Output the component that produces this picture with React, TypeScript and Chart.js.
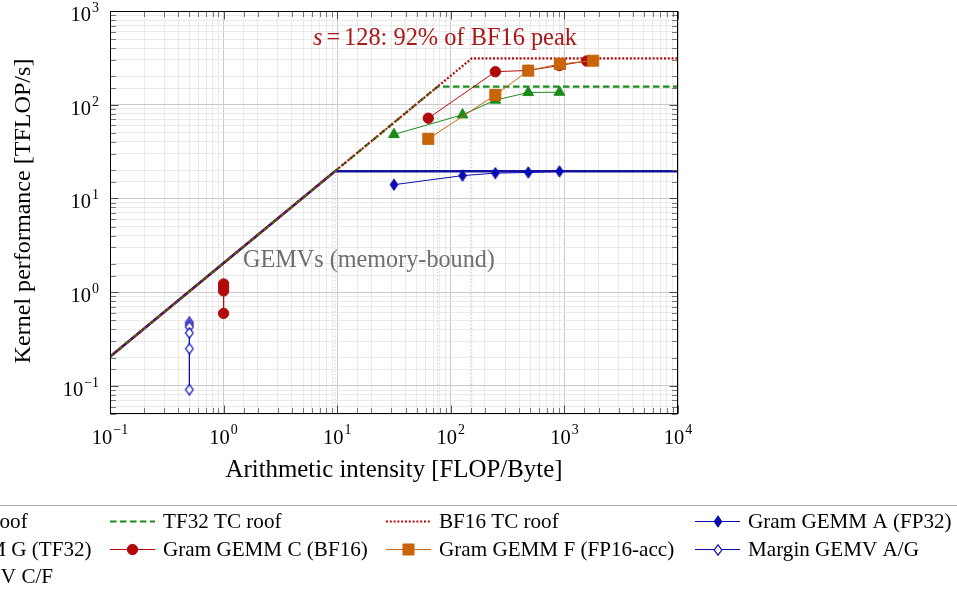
import React, { useEffect, useRef } from "react";
import { Chart, registerables } from "chart.js";
Chart.register(...registerables);

// ---------------- data ----------------
const X_MIN = 0.1;
const X_MAX = 10000;
const Y_MIN = 0.05;
const Y_MAX = 1000;

const ROOF_FP32_X = [0.1, 9.56, 10000];
const ROOF_FP32_Y = [0.204, 19.5, 19.5];
const ROOF_TF32_X = [0.1, 76.5, 10000];
const ROOF_TF32_Y = [0.204, 156, 156];
const ROOF_BF16_X = [0.1, 153, 10000];
const ROOF_BF16_Y = [0.204, 312, 312];
const RIDGE_X = [9.56, 76.5, 153];
const RIDGE_TOP = [19.5, 156, 312];

const GRAM_A_X = [31.6, 126.8, 246.6, 480.7, 905];
const GRAM_A_Y = [14.0, 17.5, 18.6, 18.9, 19.4];
const GRAM_G_X = [31.6, 126.8, 246.6, 480.7, 905];
const GRAM_G_Y = [48.1, 78, 112, 135, 136];
const GRAM_C_X = [63.4, 246.6, 480.7, 905, 1571];
const GRAM_C_Y = [71.8, 225, 232, 262, 293];
const GRAM_F_X = [63.4, 246.6, 480.7, 914, 1793];
const GRAM_F_Y = [43.2, 127, 231, 272, 295];
const GEMV_AG_X = [0.5, 0.5, 0.5, 0.5, 0.5, 0.5];
const GEMV_AG_Y = [0.475, 0.449, 0.425, 0.366, 0.249, 0.091];
const GEMV_CF_X = [1, 1, 1, 1];
const GEMV_CF_Y = [1.22, 1.12, 1.03, 0.593];

const X_TICKS = [0.1, 1, 10, 100, 1000, 10000];
const X_TICK_EXP = ["\u22121", "0", "1", "2", "3", "4"];
const Y_TICKS = [0.1, 1, 10, 100, 1000];
const Y_TICK_EXP = ["\u22121", "0", "1", "2", "3"];

const X_TITLE = "Arithmetic intensity [FLOP/Byte]";
const Y_TITLE = "Kernel performance [TFLOP/s]";
const NOTE_S = "s";
const NOTE_REST = "128: 92% of BF16 peak";
const NOTE_GEMV = "GEMVs (memory-bound)";

const LABELS = [
  "FP32 SIMT roof",
  "TF32 TC roof",
  "BF16 TC roof",
  "Gram GEMM A (FP32)",
  "Gram GEMM G (TF32)",
  "Gram GEMM C (BF16)",
  "Gram GEMM F (FP16-acc)",
  "Margin GEMV A/G",
  "Margin GEMV C/F",
];

// ---------------- styles ----------------
const FAM = '"Liberation Serif", "DejaVu Serif", serif';
const C_ROOF_BLUE = "#12129c";
const C_BLUE = "#0b0bb4";
const C_GREEN = "#1b8c1b";
const C_RED = "#b20a0a";
const C_ORANGE = "#c8640a";

function makeDiamond(color: string, filled: boolean): HTMLCanvasElement {
  const c = document.createElement("canvas");
  const w = filled ? 10 : 10;
  const h = filled ? 13 : 12;
  c.width = w;
  c.height = h;
  const g = c.getContext("2d")!;
  g.beginPath();
  g.moveTo(w / 2, 0.8);
  g.lineTo(w - 1.2, h / 2);
  g.lineTo(w / 2, h - 0.8);
  g.lineTo(1.2, h / 2);
  g.closePath();
  g.fillStyle = filled ? color : "#ffffff";
  g.fill();
  g.strokeStyle = color;
  g.lineWidth = filled ? 1 : 1.2;
  g.stroke();
  return c;
}

type SeriesStyle = {
  color: string;
  width: number;
  dash?: number[];
  marker?: "none" | "circle" | "rect" | "triangle" | "diamond" | "odiamond";
  radius?: number;
};

function isMajor(v: number | undefined) {
  if (v === undefined || v <= 0) return false;
  const l = Math.log10(v);
  return Math.abs(l - Math.round(l)) < 1e-6;
}

function fitSize(ctx: CanvasRenderingContext2D, text: string, font: string, target: number) {
  ctx.font = `${font} 100px ${FAM}`;
  const w = ctx.measureText(text).width;
  return (100 * target) / w;
}

export default function App() {
  const ref = useRef<HTMLCanvasElement>(null);

  useEffect(() => {
    const canvas = ref.current!;
    const dFill = makeDiamond(C_BLUE, true);
    const dOpen = makeDiamond(C_BLUE, false);

    const styles: SeriesStyle[] = [
      { color: C_ROOF_BLUE, width: 2.6, marker: "none" },
      { color: C_GREEN, width: 2.2, dash: [6.5, 3.5], marker: "none" },
      { color: C_RED, width: 2.2, dash: [2, 1.8], marker: "none" },
      { color: C_BLUE, width: 1, marker: "diamond", radius: 5 },
      { color: C_GREEN, width: 1, marker: "triangle", radius: 6.2 },
      { color: C_RED, width: 1, marker: "circle", radius: 5.2 },
      { color: C_ORANGE, width: 1, marker: "rect", radius: 7.8 },
      { color: C_BLUE, width: 1, marker: "odiamond", radius: 5 },
      { color: C_RED, width: 1, marker: "circle", radius: 5.2 },
    ];
    const seriesX = [ROOF_FP32_X, ROOF_TF32_X, ROOF_BF16_X, GRAM_A_X, GRAM_G_X, GRAM_C_X, GRAM_F_X, GEMV_AG_X, GEMV_CF_X];
    const seriesY = [ROOF_FP32_Y, ROOF_TF32_Y, ROOF_BF16_Y, GRAM_A_Y, GRAM_G_Y, GRAM_C_Y, GRAM_F_Y, GEMV_AG_Y, GEMV_CF_Y];

    const pointStyleOf = (s: SeriesStyle): any => {
      switch (s.marker) {
        case "diamond":
          return dFill;
        case "odiamond":
          return dOpen;
        case "rect":
          return "rect";
        case "triangle":
          return "triangle";
        default:
          return "circle";
      }
    };

    const datasets: any[] = [];
    RIDGE_X.forEach((x, i) => {
      datasets.push({
        data: [
          { x, y: RIDGE_TOP[i] },
          { x, y: Y_MIN },
        ],
        showLine: true,
        borderColor: "#b0b0b0",
        borderWidth: 0.9,
        borderDash: [1, 2.5],
        pointRadius: 0,
        pointHoverRadius: 0,
        order: 100,
      });
    });
    styles.forEach((s, i) => {
      datasets.push({
        data: seriesX[i].map((x, k) => ({ x, y: seriesY[i][k] })),
        showLine: true,
        borderColor: s.color,
        backgroundColor: s.color,
        borderWidth: s.width,
        borderDash: s.dash ?? [],
        borderCapStyle: "butt",
        pointStyle: pointStyleOf(s),
        pointRadius: s.marker === "none" ? 0 : s.radius,
        pointHoverRadius: s.marker === "none" ? 0 : s.radius,
        pointBackgroundColor: s.color,
        pointBorderColor: s.color,
        pointBorderWidth: 1,
        tension: 0,
        order: 50 - i,
      });
    });

    const drawMarker = (ctx: CanvasRenderingContext2D, s: SeriesStyle, x: number, y: number) => {
      const r = s.radius ?? 0;
      ctx.save();
      ctx.setLineDash([]);
      ctx.fillStyle = s.color;
      ctx.strokeStyle = s.color;
      ctx.lineWidth = 1;
      if (s.marker === "circle") {
        ctx.beginPath();
        ctx.arc(x, y, r, 0, Math.PI * 2);
        ctx.fill();
        ctx.stroke();
      } else if (s.marker === "rect") {
        const h = r * Math.SQRT1_2;
        ctx.beginPath();
        ctx.rect(x - h, y - h, 2 * h, 2 * h);
        ctx.fill();
        ctx.stroke();
      } else if (s.marker === "triangle") {
        ctx.beginPath();
        ctx.moveTo(x, y - r);
        ctx.lineTo(x + 0.866 * r, y + 0.5 * r);
        ctx.lineTo(x - 0.866 * r, y + 0.5 * r);
        ctx.closePath();
        ctx.fill();
        ctx.stroke();
      } else if (s.marker === "diamond" || s.marker === "odiamond") {
        const im = s.marker === "diamond" ? dFill : dOpen;
        ctx.drawImage(im, Math.round(x - im.width / 2), Math.round(y - im.height / 2));
      }
      ctx.restore();
    };

    const drawPow = (
      ctx: CanvasRenderingContext2D,
      exp: string,
      x: number,
      baseline: number,
      align: "center" | "right",
      size: number
    ) => {
      const sup = size * 0.68;
      ctx.font = `${size}px ${FAM}`;
      const wb = ctx.measureText("10").width;
      ctx.font = `${sup}px ${FAM}`;
      const we = ctx.measureText(exp).width;
      const total = wb + 1 + we;
      const left = align === "center" ? x - total / 2 : x - total;
      ctx.textAlign = "left";
      ctx.textBaseline = "alphabetic";
      ctx.font = `${size}px ${FAM}`;
      ctx.fillText("10", left, baseline);
      ctx.font = `${sup}px ${FAM}`;
      ctx.fillText(exp, left + wb + 1, baseline - size * 0.44);
    };

    const overlay = {
      id: "overlay",
      afterDraw(chart: any) {
        const ctx: CanvasRenderingContext2D = chart.ctx;
        const a = chart.chartArea;
        const xs = chart.scales.x;
        const ys = chart.scales.y;
        ctx.save();

        // inward tick marks on all four sides
        const L = Math.round(a.left) + 0.5;
        const R = Math.round(a.right) - 0.5;
        const T = Math.round(a.top) + 0.5;
        const B = Math.round(a.bottom) - 0.5;
        ctx.lineWidth = 0.8;
        xs.ticks.forEach((t: any) => {
          const px = Math.round(xs.getPixelForValue(t.value)) + 0.5;
          const len = isMajor(t.value) ? 8 : 5.5;
          ctx.strokeStyle = isMajor(t.value) ? "#222" : "#555";
          ctx.beginPath();
          ctx.moveTo(px, B);
          ctx.lineTo(px, B - len);
          ctx.moveTo(px, T);
          ctx.lineTo(px, T + len);
          ctx.stroke();
        });
        ys.ticks.forEach((t: any) => {
          const py = Math.round(ys.getPixelForValue(t.value)) + 0.5;
          const len = isMajor(t.value) ? 8 : 5.5;
          ctx.strokeStyle = isMajor(t.value) ? "#222" : "#555";
          ctx.beginPath();
          ctx.moveTo(L, py);
          ctx.lineTo(L + len, py);
          ctx.moveTo(R, py);
          ctx.lineTo(R - len, py);
          ctx.stroke();
        });
        // frame
        ctx.strokeStyle = "#000";
        ctx.lineWidth = 1;
        ctx.strokeRect(L, T, R - L, B - T);

        // tick labels
        ctx.fillStyle = "#000";
        const tickSize = fitSize(ctx, "10", "", 20.5);
        X_TICKS.forEach((v, i) => {
          drawPow(ctx, X_TICK_EXP[i], xs.getPixelForValue(v), 443.5, "center", tickSize);
        });
        Y_TICKS.forEach((v, i) => {
          drawPow(ctx, Y_TICK_EXP[i], a.left - 11, ys.getPixelForValue(v) + 10, "right", tickSize);
        });

        // axis titles
        const xtSize = fitSize(ctx, X_TITLE, "", 337);
        ctx.font = `${xtSize}px ${FAM}`;
        ctx.textAlign = "center";
        ctx.textBaseline = "alphabetic";
        ctx.fillText(X_TITLE, (a.left + a.right) / 2, 477);
        const ytSize = fitSize(ctx, Y_TITLE, "", 305);
        ctx.save();
        ctx.translate(30, 211);
        ctx.rotate(-Math.PI / 2);
        ctx.font = `${ytSize}px ${FAM}`;
        ctx.fillText(Y_TITLE, 0, 0);
        ctx.restore();

        // annotation: s = 128
        ctx.textAlign = "left";
        ctx.font = `italic 100px ${FAM}`;
        const wS = ctx.measureText(NOTE_S).width;
        ctx.font = `100px ${FAM}`;
        const wEq = ctx.measureText("=").width;
        const wRest = ctx.measureText(NOTE_REST).width;
        const gap = 16;
        const nSize = (100 * 264) / (wS + wEq + wRest + 2 * gap);
        const k = nSize / 100;
        let nx = 313;
        const nb = 45;
        ctx.fillStyle = "#aa1818";
        ctx.font = `italic ${nSize}px ${FAM}`;
        ctx.fillText(NOTE_S, nx, nb);
        nx += (wS + gap) * k;
        ctx.font = `${nSize}px ${FAM}`;
        ctx.fillText("=", nx, nb);
        nx += (wEq + gap) * k;
        ctx.fillText(NOTE_REST, nx, nb);

        // annotation: GEMVs
        const gSize = fitSize(ctx, NOTE_GEMV, "", 252);
        ctx.font = `${gSize}px ${FAM}`;
        ctx.fillStyle = "#6e6e6e";
        ctx.fillText(NOTE_GEMV, 243, 267);

        // legend
        ctx.strokeStyle = "#a8a8a8";
        ctx.lineWidth = 1.2;
        ctx.setLineDash([]);
        ctx.beginPath();
        ctx.moveTo(0, 505.5);
        ctx.lineTo(957, 505.5);
        ctx.stroke();

        const lSize = fitSize(ctx, LABELS[5], "", 205);
        ctx.font = `${lSize}px ${FAM}`;
        const col0Text = 91.6 - ctx.measureText(LABELS[4]).width;
        const colStart = [col0Text - 53, 110, 386, 695];
        const rowY = [521, 549, 576];
        LABELS.forEach((lab, i) => {
          const row = Math.floor(i / 4);
          const col = i % 4;
          const sx = colStart[col];
          const sy = rowY[row];
          const s = styles[i];
          ctx.save();
          ctx.strokeStyle = s.color;
          ctx.lineWidth = s.width;
          ctx.setLineDash(s.dash ?? []);
          ctx.beginPath();
          ctx.moveTo(sx, sy + 0.5);
          ctx.lineTo(sx + 45, sy + 0.5);
          ctx.stroke();
          ctx.restore();
          if (s.marker && s.marker !== "none") drawMarker(ctx, s, sx + 22.5, sy + 0.5);
          ctx.fillStyle = "#000";
          ctx.font = `${lSize}px ${FAM}`;
          ctx.textAlign = "left";
          ctx.textBaseline = "middle";
          ctx.fillText(lab, sx + 53, sy + 1);
        });

        ctx.restore();
      },
    };

    const chart = new Chart(canvas, {
      type: "scatter",
      data: { datasets },
      options: {
        responsive: false,
        animation: false,
        devicePixelRatio: 1,
        layout: { padding: { left: 110, top: 11, right: 279, bottom: 180 } },
        plugins: { legend: { display: false }, tooltip: { enabled: false } },
        events: [],
        scales: {
          x: {
            type: "logarithmic",
            min: X_MIN,
            max: X_MAX,
            ticks: { display: false },
            border: { display: false },
            grid: {
              drawTicks: false,
              color: (c: any) => (isMajor(c.tick?.value) ? "#cbcbcb" : "#e4e4e4"),
              lineWidth: (c: any) => (isMajor(c.tick?.value) ? 1 : 0.8),
            },
          },
          y: {
            type: "logarithmic",
            min: Y_MIN,
            max: Y_MAX,
            ticks: { display: false },
            border: { display: false },
            grid: {
              drawTicks: false,
              color: (c: any) => (isMajor(c.tick?.value) ? "#cbcbcb" : "#e4e4e4"),
              lineWidth: (c: any) => (isMajor(c.tick?.value) ? 1 : 0.8),
            },
          },
        },
      } as any,
      plugins: [overlay],
    });
    return () => chart.destroy();
  }, []);

  return (
    <div style={{ position: "fixed", left: 0, top: 0, width: 957, height: 594, background: "#fff" }}>
      <canvas ref={ref} width={957} height={594} style={{ display: "block", width: 957, height: 594 }} />
    </div>
  );
}
